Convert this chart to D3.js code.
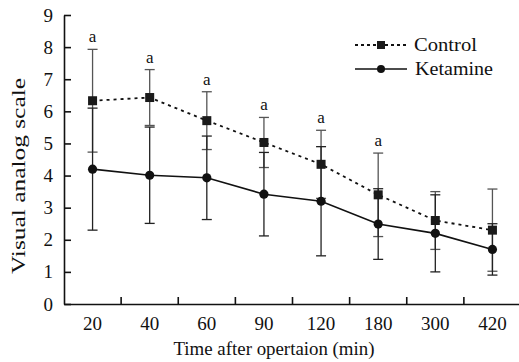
<!DOCTYPE html>
<html>
<head>
<meta charset="utf-8">
<script src="https://cdn.jsdelivr.net/npm/d3@7"></script>
<style>
  body { margin: 0; background: #fff; }
  svg text { fill: #111; }
  .axis path, .axis line { stroke: #111; stroke-width: 1.6; }
  .axis text { font-size: 19px; }
</style>
</head>
<body>
<div id="chart"></div>
<script>
// data
var times = ["20", "40", "60", "90", "120", "180", "300", "420"];
var controlMean = [6.33, 6.43, 5.71, 5.03, 4.35, 3.4, 2.6, 2.3];
var controlSd = [1.6, 0.87, 0.9, 0.78, 1.06, 1.3, 0.9, 1.28];
var ketamineMean = [4.2, 4.01, 3.93, 3.42, 3.2, 2.49, 2.2, 1.7];
var ketamineSd = [1.9, 1.5, 1.3, 1.3, 1.7, 1.1, 1.2, 0.8];
var sigMarks = ["a", "a", "a", "a", "a", "a", "", ""];
var yTicks = [0, 1, 2, 3, 4, 5, 6, 7, 8, 9];

var w = 519, h = 362;
var margin = {top: 15, left: 64, right: -2, bottom: 58};
var serif = "'Times New Roman', Times, 'Liberation Serif', Tinos, 'Noto Serif', 'DejaVu Serif', serif";

var svg = d3.select("#chart").append("svg")
    .attr("width", w)
    .attr("height", h)
    .attr("font-family", serif);

var x = d3.scaleBand()
    .domain(times)
    .range([margin.left, w - margin.right]);

var y = d3.scaleLinear()
    .domain([0, 9])
    .range([h - margin.bottom, margin.top]);

var cx = function(d, i) { return x(times[i]) + x.bandwidth() / 2; };

// axes
var yAxis = d3.axisLeft(y)
    .tickValues(yTicks)
    .tickSize(-7)
    .tickSizeOuter(0)
    .tickPadding(11);

svg.append("g")
    .attr("class", "axis")
    .attr("transform", "translate(" + margin.left + ",0)")
    .call(yAxis)
    .attr("font-family", serif)
    .attr("font-size", null);

var xAxis = d3.axisBottom(x)
    .tickSize(0)
    .tickSizeOuter(0)
    .tickPadding(13);

var xg = svg.append("g")
    .attr("class", "axis")
    .attr("transform", "translate(0," + (h - margin.bottom) + ")")
    .call(xAxis)
    .attr("font-family", serif)
    .attr("font-size", null);

// ticks sit between the categories, pointing up
xg.selectAll(".sep")
    .data(times.slice(1))
    .enter()
    .append("line")
    .attr("class", "sep")
    .attr("x1", function(d) { return x(d); })
    .attr("x2", function(d) { return x(d); })
    .attr("y1", 0)
    .attr("y2", -7);

// the figure's lettering is a wide serif; stretch it to the measured widths
function stretch(sel, len) {
    sel.attr("textLength", len).attr("lengthAdjust", "spacingAndGlyphs");
}

svg.append("text")
    .attr("x", 274)
    .attr("y", 355)
    .attr("text-anchor", "middle")
    .style("font-size", "19px")
    .text("Time after opertaion (min)")
    .call(stretch, 201);

svg.append("text")
    .attr("transform", "translate(25,176) rotate(-90)")
    .attr("text-anchor", "middle")
    .style("font-size", "19px")
    .text("Visual analog scale")
    .call(stretch, 196);

// error bars
function errorBars(mean, sd, color) {
    var g = svg.append("g").attr("stroke", color).attr("stroke-width", 1.3);
    g.selectAll(".v")
        .data(mean)
        .enter()
        .append("line")
        .attr("x1", cx)
        .attr("x2", cx)
        .attr("y1", function(d, i) { return y(d + sd[i]); })
        .attr("y2", function(d, i) { return y(d - sd[i]); });
    [1, -1].forEach(function(s) {
        g.selectAll(".c" + s)
            .data(mean)
            .enter()
            .append("line")
            .attr("x1", function(d, i) { return cx(d, i) - 5; })
            .attr("x2", function(d, i) { return cx(d, i) + 5; })
            .attr("y1", function(d, i) { return y(d + s * sd[i]); })
            .attr("y2", function(d, i) { return y(d + s * sd[i]); });
    });
}
errorBars(controlMean, controlSd, "#555");
errorBars(ketamineMean, ketamineSd, "#222");

// lines
var line = d3.line()
    .x(cx)
    .y(function(d) { return y(d); });

svg.append("path")
    .datum(controlMean)
    .attr("fill", "none")
    .attr("stroke", "#111")
    .attr("stroke-width", 1.8)
    .attr("stroke-dasharray", "3,4")
    .attr("d", line);

svg.append("path")
    .datum(ketamineMean)
    .attr("fill", "none")
    .attr("stroke", "#111")
    .attr("stroke-width", 1.6)
    .attr("d", line);

// markers
svg.selectAll(".sq")
    .data(controlMean)
    .enter()
    .append("rect")
    .attr("x", function(d, i) { return cx(d, i) - 4.5; })
    .attr("y", function(d) { return y(d) - 4.5; })
    .attr("width", 9)
    .attr("height", 9)
    .attr("fill", "#1a1a1a");

svg.selectAll(".dot")
    .data(ketamineMean)
    .enter()
    .append("circle")
    .attr("cx", cx)
    .attr("cy", function(d) { return y(d); })
    .attr("r", 4.6)
    .attr("fill", "#111");

// significance letters
svg.selectAll(".sig")
    .data(controlMean)
    .enter()
    .append("text")
    .attr("x", cx)
    .attr("y", function(d, i) { return y(d + controlSd[i]) - 7; })
    .attr("text-anchor", "middle")
    .style("font-size", "17px")
    .text(function(d, i) { return sigMarks[i]; });

// legend
var legend = svg.append("g");
legend.append("line")
    .attr("x1", 355).attr("x2", 407)
    .attr("y1", 45).attr("y2", 45)
    .attr("stroke", "#111")
    .attr("stroke-width", 1.8)
    .attr("stroke-dasharray", "3,3");
legend.append("rect")
    .attr("x", 377).attr("y", 41)
    .attr("width", 8).attr("height", 8)
    .attr("fill", "#1a1a1a");
legend.append("text")
    .attr("x", 414).attr("y", 51)
    .style("font-size", "19px")
    .text("Control")
    .call(stretch, 63);

legend.append("line")
    .attr("x1", 355).attr("x2", 407)
    .attr("y1", 69).attr("y2", 69)
    .attr("stroke", "#111")
    .attr("stroke-width", 1.6);
legend.append("circle")
    .attr("cx", 381).attr("cy", 69)
    .attr("r", 4)
    .attr("fill", "#111");
legend.append("text")
    .attr("x", 415).attr("y", 75)
    .style("font-size", "19px")
    .text("Ketamine")
    .call(stretch, 78);
</script>
</body>
</html>
